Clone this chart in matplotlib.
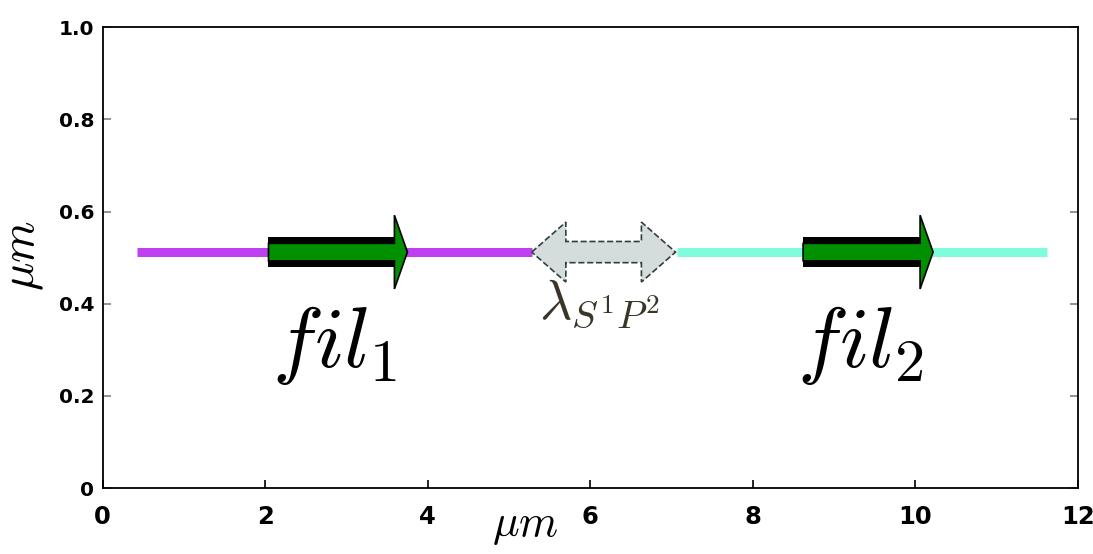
import numpy as np
import matplotlib
matplotlib.use('Agg')
import matplotlib.pyplot as plt
from matplotlib.patches import FancyArrow, Rectangle, Polygon

plt.rcParams['mathtext.fontset'] = 'cm'

# DATA
y_fil = 0.512
line_spans = [(0.42, 5.28), (7.07, 11.62)]
line_colors = ['#bf40f0', '#7ffcdc']
arrow_spans = [(2.04, 3.75), (8.62, 10.22)]
gap_span = (5.28, 7.05)
fil_labels = [r'$fil_1$', r'$fil_2$']
fil_label_x = [2.85, 9.32]
gap_label = r'$\lambda_{S^1P^2}$'
xticks = [0, 2, 4, 6, 8, 10, 12]
yticks = [0, 0.2, 0.4, 0.6, 0.8, 1.0]
ytick_labels = ['0', '0.2', '0.4', '0.6', '0.8', '1.0']

#%% PLOT
fig = plt.figure(figsize=(10.93, 5.54), dpi=100)
ax = fig.add_axes([0.094, 0.119, 0.892, 0.832])

for (x0, x1), c in zip(line_spans, line_colors):
    ax.plot([x0, x1], [y_fil, y_fil], color=c, lw=6.5, solid_capstyle='butt', zorder=1)

# green direction arrows
for (x0, x1) in arrow_spans:
    hl = 0.16
    ax.add_patch(Rectangle((x0, y_fil - 0.032), (x1 - x0) - hl, 0.064,
                           facecolor='black', edgecolor='none', zorder=2))
    ax.add_patch(FancyArrow(x0, y_fil, x1 - x0, 0, width=0.038, head_width=0.16,
                            head_length=hl, length_includes_head=True,
                            facecolor='#009000', edgecolor='black', lw=1.2, zorder=3))

# dashed double arrow between filaments
g0, g1 = gap_span
hl, hw, bw = 0.42, 0.065, 0.023
pts = [(g0, y_fil), (g0 + hl, y_fil + hw), (g0 + hl, y_fil + bw), (g1 - hl, y_fil + bw),
       (g1 - hl, y_fil + hw), (g1, y_fil), (g1 - hl, y_fil - hw), (g1 - hl, y_fil - bw),
       (g0 + hl, y_fil - bw), (g0 + hl, y_fil - hw)]
ax.add_patch(Polygon(pts, closed=True, facecolor='#d5dcdc', edgecolor='#2f3f3f',
                     lw=1.2, ls='--', zorder=2))

for lab, xx in zip(fil_labels, fil_label_x):
    ax.text(xx, 0.31, lab, fontsize=62, ha='center', va='center')
ax.text(6.12, 0.40, gap_label, fontsize=40, ha='center', va='center', color='#3a3528')

ax.set_xlim(0, 12)
ax.set_ylim(0, 1)
ax.set_xticks(xticks)
ax.set_yticks(yticks)
ax.set_yticklabels(ytick_labels)
ax.tick_params(axis='x', direction='in', length=6, width=1.2, labelsize=17.5, pad=12)
ax.tick_params(axis='y', direction='in', length=6, width=1.2, labelsize=14.5, pad=6,
               color='grey', right=True)
for lab in ax.get_xticklabels() + ax.get_yticklabels():
    lab.set_fontweight('bold')
for s in ax.spines.values():
    s.set_linewidth(1.3)

ax.set_xlabel(r'$\mu m$', fontsize=32)
ax.xaxis.set_label_coords(0.433, -0.035)
ax.set_ylabel(r'$\mu m$', fontsize=34)
ax.yaxis.set_label_coords(-0.058, 0.505)

fig.savefig('out.png', dpi=100)
